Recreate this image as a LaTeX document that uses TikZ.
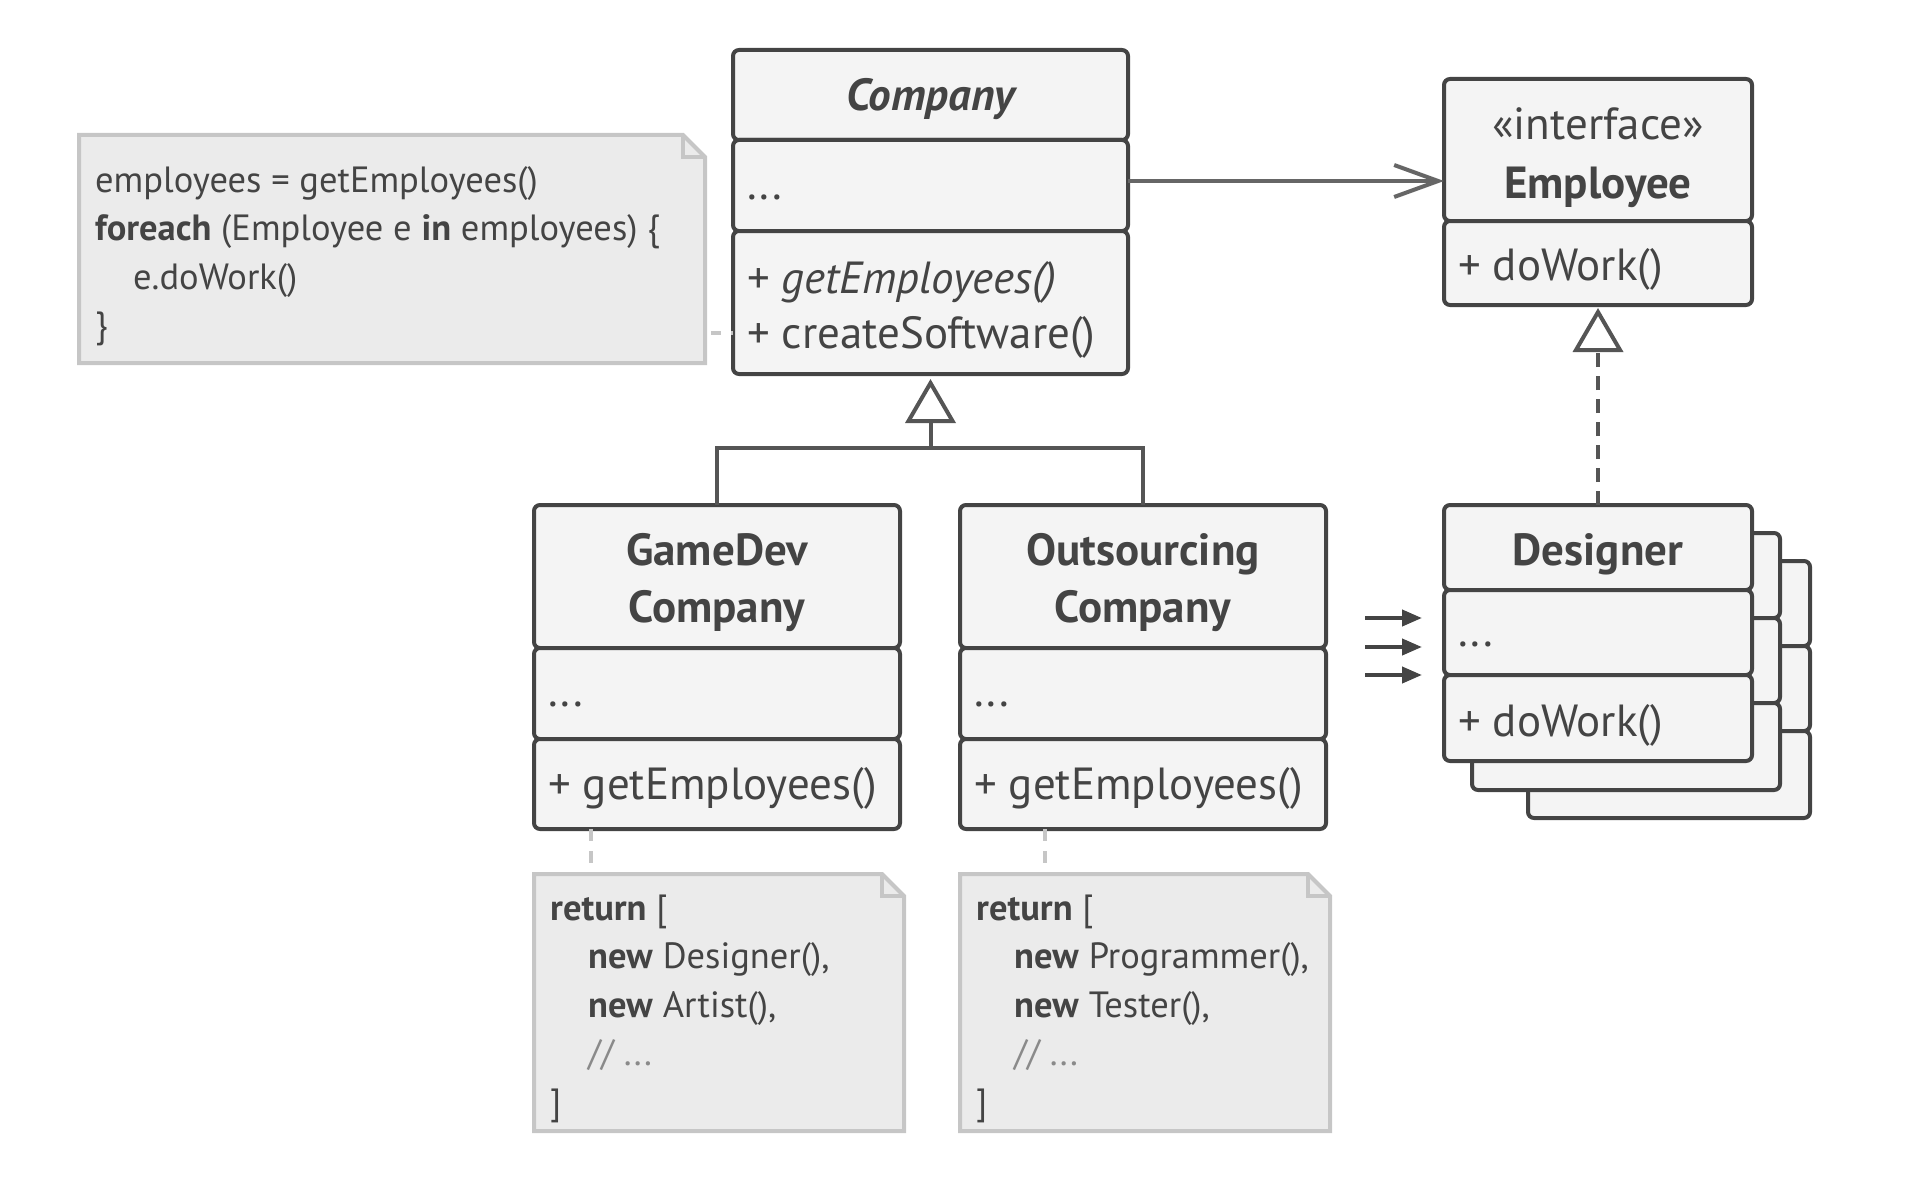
\documentclass[tikz,border=0pt]{standalone}
\usepackage{fontspec}
\setmainfont{PT Sans}
\usetikzlibrary{arrows.meta,calc,backgrounds}
\definecolor{ink}{HTML}{444444}
\definecolor{boxfill}{HTML}{F4F4F4}
\definecolor{notefill}{HTML}{EBEBEB}
\definecolor{noteline}{HTML}{C6C6C6}
\definecolor{linkcol}{HTML}{666666}
\definecolor{inhcol}{HTML}{555555}
\definecolor{commentcol}{HTML}{8A8A8A}
\newcommand\myclsfont{\fontsize{45pt}{55pt}\selectfont}
\newcommand\myttlfont{\fontsize{45pt}{57pt}\selectfont\bfseries}
\newcommand\mynotefont{\fontsize{36.5pt}{48.5pt}\selectfont}
\newcommand\ind{\hspace*{38pt}}
\begin{document}
\begin{tikzpicture}[x=1pt,y=-1pt,
  comp/.style={draw=ink, line width=4pt, fill=boxfill, rounded corners=6pt, anchor=north west, inner sep=0pt, outer sep=0pt},
  ttext/.style={text=ink, font=\myttlfont, align=center, inner sep=0pt},
  ltext/.style={text=ink, font=\myclsfont, align=left, anchor=west, inner sep=0pt},
  notebox/.style={anchor=north west, inner sep=0pt, outer sep=0pt},
  notetext/.style={anchor=west, inner sep=0pt, align=left, text=ink, font=\mynotefont},
  noteshape/.style={draw=noteline, fill=notefill, line width=4pt, line join=miter},
  notelink/.style={draw=noteline, line width=4pt, dash pattern=on 12pt off 10pt},
  assoc/.style={draw=linkcol, line width=4pt, -{Straight Barb[length=44pt,width=32pt]}},
  inh/.style={draw=inhcol, line width=4pt},
  inhtip/.style={-{Triangle[open,length=44pt,width=50pt]}},
  many/.style={draw=ink, line width=4pt, -{Triangle[length=20pt,width=16pt]}}
]
\useasboundingbox (0,0) rectangle (1928,1180);

% ---------- Company ----------
\node[comp, minimum width=395pt, minimum height=90pt] (ctitle) at (733,50) {};
\node[comp, minimum width=395pt, minimum height=91pt] (cattr) at (733,140) {};
\node[comp, minimum width=395pt, minimum height=143pt] (cmeth) at (733,231) {};
\node[ttext, font=\myttlfont\itshape] (ctitleT) at ($(ctitle.center)+(0,4)$) {Company};
\node[ltext] (cattrT) at ($(cattr.west)+(14,12)$) {...};
\node[ltext] (cmethT) at ($(cmeth.west)+(14,7)$) {+ \textit{getEmployees()}\\+ createSoftware()};

% ---------- Employee ----------
\node[comp, minimum width=308pt, minimum height=142pt] (etitle) at (1444,79) {};
\node[comp, minimum width=308pt, minimum height=84pt] (emeth) at (1444,221) {};
\node[ttext, font=\myclsfont] (etitleT) at ($(etitle.center)+(0,8)$) {«interface»\\[4pt]\textbf{Employee}};
\node[ltext] (emethT) at ($(emeth.west)+(14,6)$) {+ doWork()};

% ---------- GameDev ----------
\node[comp, minimum width=366pt, minimum height=143pt] (gtitle) at (534,505) {};
\node[comp, minimum width=366pt, minimum height=91pt] (gattr) at (534,648) {};
\node[comp, minimum width=366pt, minimum height=90pt] (gmeth) at (534,739) {};
\node[ttext] (gtitleT) at ($(gtitle.center)+(0,6)$) {GameDev\\Company};
\node[ltext] (gattrT) at ($(gattr.west)+(14,11)$) {...};
\node[ltext] (gmethT) at ($(gmeth.west)+(14,4)$) {+ getEmployees()};

% ---------- Outsourcing ----------
\node[comp, minimum width=366pt, minimum height=143pt] (otitle) at (960,505) {};
\node[comp, minimum width=366pt, minimum height=91pt] (oattr) at (960,648) {};
\node[comp, minimum width=366pt, minimum height=90pt] (ometh) at (960,739) {};
\node[ttext] (otitleT) at ($(otitle.center)+(0,6)$) {Outsourcing\\Company};
\node[ltext] (oattrT) at ($(oattr.west)+(14,11)$) {...};
\node[ltext] (omethT) at ($(ometh.west)+(14,4)$) {+ getEmployees()};

% ---------- Designer stack ----------
\node[comp, minimum width=282pt, minimum height=85pt] (d3a) at (1528,561) {};
\node[comp, minimum width=282pt, minimum height=85pt] (d3b) at (1528,646) {};
\node[comp, minimum width=282pt, minimum height=87pt] (d3c) at (1528,731) {};
\node[comp, minimum width=308pt, minimum height=85pt] (d2a) at (1472,533) {};
\node[comp, minimum width=308pt, minimum height=85pt] (d2b) at (1472,618) {};
\node[comp, minimum width=308pt, minimum height=87pt] (d2c) at (1472,703) {};
\node[comp, minimum width=308pt, minimum height=85pt] (dtitle) at (1444,505) {};
\node[comp, minimum width=308pt, minimum height=85pt] (dattr) at (1444,590) {};
\node[comp, minimum width=308pt, minimum height=86pt] (dmeth) at (1444,675) {};
\node[ttext] (dtitleT) at ($(dtitle.center)+(0,7)$) {Designer};
\node[ltext] (dattrT) at ($(dattr.west)+(14,12)$) {...};
\node[ltext] (dmethT) at ($(dmeth.west)+(14,7)$) {+ doWork()};

% ---------- Notes ----------
\node[notebox, minimum width=626pt, minimum height=228pt] (note1) at (79,135) {};
\node[notebox, minimum width=370pt, minimum height=257pt] (gnote) at (534,874) {};
\node[notebox, minimum width=370pt, minimum height=257pt] (onote) at (960,874) {};

\begin{scope}[on background layer]
\foreach \n in {note1,gnote,onote}{
  \path[noteshape] (\n.north west) -- ($(\n.north east)+(-22,0)$) -- ($(\n.north east)+(0,22)$) -- (\n.south east) -- (\n.south west) -- cycle;
  \draw[draw=noteline, line width=4pt] ($(\n.north east)+(-22,0)$) -- ($(\n.north east)+(-22,22)$) -- ($(\n.north east)+(0,22)$);
}
\end{scope}

\node[notetext] (note1T) at ($(note1.west)+(16,7)$)
  {employees = getEmployees()\\\textbf{foreach} (Employee e \textbf{in} employees) \{\\\ind e.doWork()\\\}};
\node[notetext] (gnoteT) at ($(gnote.west)+(16,6)$)
  {\textbf{return} [\\\ind\textbf{new} Designer(),\\\ind\textbf{new} Artist(),\\\ind{\color{commentcol}// ...}\\]};
\node[notetext] (onoteT) at ($(onote.west)+(16,6)$)
  {\textbf{return} [\\\ind\textbf{new} Programmer(),\\\ind\textbf{new} Tester(),\\\ind{\color{commentcol}// ...}\\]};

% ---------- Connectors ----------
\coordinate (nl1) at (0,333);
\draw[notelink, dash pattern=on 10pt off 10pt, dash phase=-6pt] (note1.east |- nl1) -- (cmeth.west |- nl1);
\coordinate (gl) at (591,0);
\coordinate (ol) at (1045,0);
\draw[notelink] (gmeth.south -| gl) -- (gnote.north -| gl);
\draw[notelink] (ometh.south -| ol) -- (onote.north -| ol);

\coordinate (asy) at (0,181);
\draw[assoc] (cattr.east |- asy) -- (etitle.west |- asy);

\coordinate (junc) at (930.5,448);
\draw[inh] (gtitle.north) |- (junc) -| (otitle.north);
\draw[inh, inhtip, shorten >=5pt] (junc) -- (cmeth.south -| junc);

\draw[inh, inhtip, dash pattern=on 14pt off 9pt, shorten >=3pt] (dtitle.north) -- (emeth.south -| dtitle.north);

\coordinate (m1s) at (1365,618); \coordinate (m1e) at (1422,618);
\coordinate (m2s) at (1365,647); \coordinate (m2e) at (1422,647);
\coordinate (m3s) at (1365,675); \coordinate (m3e) at (1422,675);
\draw[many] (m1s) -- (m1e);
\draw[many] (m2s) -- (m2e);
\draw[many] (m3s) -- (m3e);
\end{tikzpicture}
\end{document}
